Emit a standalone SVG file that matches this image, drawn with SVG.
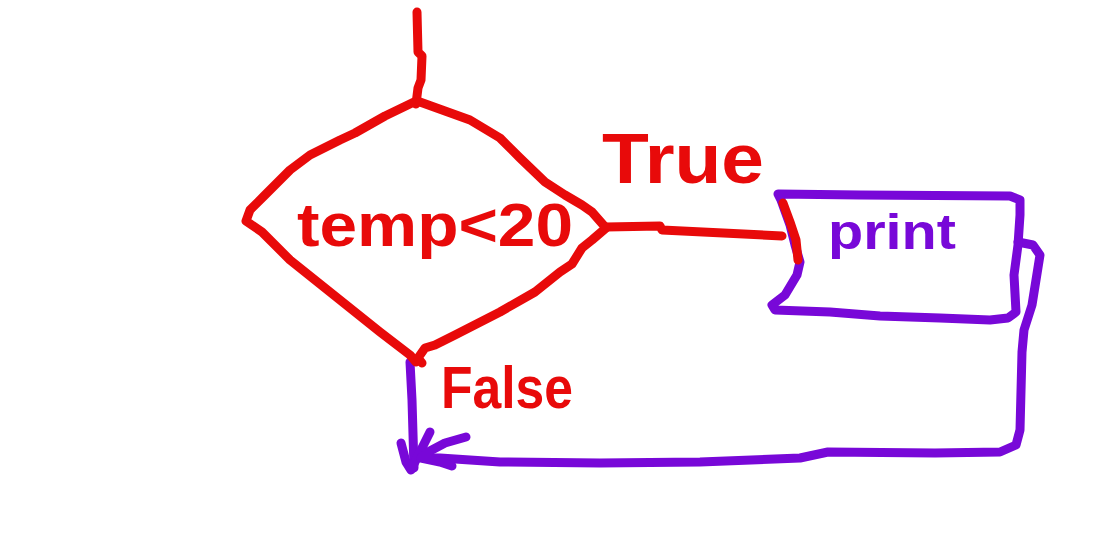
<svg xmlns="http://www.w3.org/2000/svg" width="1093" height="533" viewBox="0 0 1093 533">
<style>
.r{fill:none;stroke:#e80a0a;stroke-width:9;stroke-linecap:round;stroke-linejoin:round}
.p{fill:none;stroke:#7808d8;stroke-width:9;stroke-linecap:round;stroke-linejoin:round}
.tr{fill:#e80a0a;font-family:"Liberation Sans",sans-serif;font-weight:bold}
.tp{fill:#7808d8;font-family:"Liberation Sans",sans-serif;font-weight:bold}
</style>
<rect width="1093" height="533" fill="#fff"/>
<g id="connectors">
<path class="r" d="M417,12 L418,52 L422,56 L421,80 L418,88 L416,104"/>
<path class="r" d="M606,227 L660,226 L662,230 L782,236"/>
<path class="p" d="M1018,242 L1033,245 L1040,255 L1032,305 L1024,330 L1022,352 L1020,430 L1016,445 L1000,452 L935,453 L828,452 L800,458 L700,462 L600,463 L500,462 L440,458 L424,458"/>
<path class="p" d="M410,362 L412,400 L414,468"/>
<path class="p" d="M401,443 L406,462 L411,470 L420,452 L430,432"/>
<path class="p" d="M466,437 L445,443 L428,452 L421,458 L440,462 L452,466"/>
<text class="tr" x="602" y="183" font-size="70" textLength="162" lengthAdjust="spacingAndGlyphs">True</text>
<text class="tr" x="441" y="408" font-size="60" textLength="132" lengthAdjust="spacingAndGlyphs">False</text>
</g>
<g id="decision">
<path class="r" d="M414,102 L385,116 L355,133 L340,140 L310,155 L290,170 L265,195 L250,210 L246,221 L262,232 L290,260 L330,292 L380,332 L410,355 L416,362"/>
<path class="r" d="M420,102 L470,120 L500,138 L520,158 L545,182 L565,195 L582,205 L592,212 L606,228 L592,240 L582,248 L572,264 L560,272 L535,292 L500,312 L455,335 L435,345 L425,348 L418,358 L422,363"/>
<text class="tr" x="297" y="246" font-size="62" textLength="276" lengthAdjust="spacingAndGlyphs">temp&lt;20</text>
</g>
<g id="process">
<path class="p" d="M778,194 L860,195 L1010,196 L1020,200 L1020,215 L1018,245 L1014,275 L1016,312 L1008,318 L990,320 L940,318 L880,316 L830,312 L775,310 L772,305 L785,295 L797,275 L800,262 L795,245 L790,225 L781,200 Z"/>
<path class="r" d="M783,203 L790,222 L796,240 L798,260" stroke-width="4"/>
<text class="tp" x="828" y="249" font-size="50" textLength="128" lengthAdjust="spacingAndGlyphs">print</text>
</g>
</svg>
